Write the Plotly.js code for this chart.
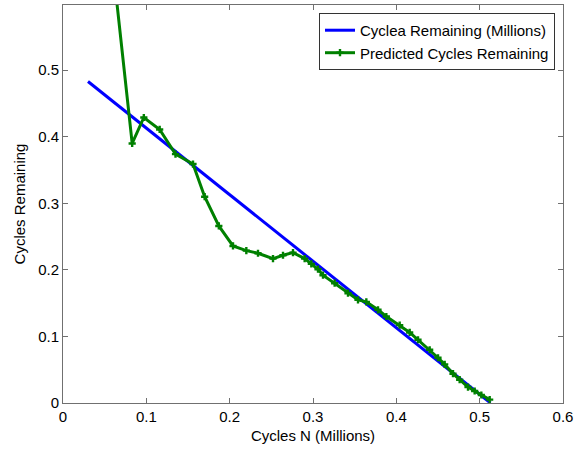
<!DOCTYPE html>
<html>
<head>
<meta charset="utf-8">
<script src="https://cdn.plot.ly/plotly-3.0.1.min.js"></script>
<style>html,body{margin:0;padding:0;background:#fff;}#chart{width:583px;height:449px;}</style>
</head>
<body>
<div id="chart"></div>
<script>
// Actual remaining cycles (millions)
const actualX = [0.03, 0.513];
const actualY = [0.483, 0.0];

// Predicted remaining cycles
const predX = [0.060, 0.083, 0.097, 0.116, 0.135, 0.156, 0.170, 0.187, 0.204, 0.220, 0.234, 0.252, 0.264, 0.276, 0.290, 0.298, 0.306, 0.312, 0.326, 0.342, 0.354, 0.364, 0.378, 0.388, 0.404, 0.416, 0.426, 0.440, 0.450, 0.458, 0.468, 0.476, 0.486, 0.494, 0.502, 0.512];
const predY = [0.655, 0.390, 0.429, 0.411, 0.374, 0.359, 0.310, 0.266, 0.236, 0.229, 0.225, 0.217, 0.222, 0.226, 0.217, 0.209, 0.201, 0.192, 0.180, 0.165, 0.155, 0.152, 0.140, 0.130, 0.117, 0.106, 0.095, 0.080, 0.068, 0.058, 0.044, 0.035, 0.024, 0.018, 0.012, 0.005];

const xTicks = [0, 0.1, 0.2, 0.3, 0.4, 0.5, 0.6];
const yTicks = [0, 0.1, 0.2, 0.3, 0.4, 0.5];

const font = {family: '"Liberation Sans", Arial, Helvetica, sans-serif', size: 15, color: '#000'};

const traces = [
  {x: actualX, y: actualY, type: 'scatter', mode: 'lines', name: 'Cyclea Remaining (Millions)',
   line: {color: '#0000ff', width: 3}},
  {x: predX, y: predY, type: 'scatter', mode: 'lines+markers', name: 'Predicted Cycles Remaining',
   line: {color: '#008000', width: 3}, marker: {symbol: 'cross', size: 6, color: '#008000'}}
];

const axisCommon = {
  showgrid: false, zeroline: false, showline: true, linecolor: '#707070', linewidth: 1,
  mirror: 'ticks', ticks: 'inside', ticklen: 5, tickcolor: '#707070', tickfont: font
};

const layout = {
  width: 583, height: 449,
  margin: {l: 63, r: 20, t: 5, b: 46},
  paper_bgcolor: '#fff', plot_bgcolor: '#fff',
  font: font,
  showlegend: true,
  legend: {x: 0.984, y: 0.98, xanchor: 'right', yanchor: 'top', bgcolor: '#fff',
           bordercolor: '#333', borderwidth: 1, font: font, tracegroupgap: 0},
  xaxis: Object.assign({}, axisCommon, {range: [0, 0.6], tickvals: xTicks, ticktext: xTicks.map(String),
    title: {text: 'Cycles N (Millions)', font: font, standoff: 6}}),
  yaxis: Object.assign({}, axisCommon, {range: [0, 0.598], tickvals: yTicks, ticktext: yTicks.map(String),
    title: {text: 'Cycles Remaining', font: font, standoff: 8}})
};

Plotly.newPlot('chart', traces, layout, {displayModeBar: false, staticPlot: true});
</script>
</body>
</html>
